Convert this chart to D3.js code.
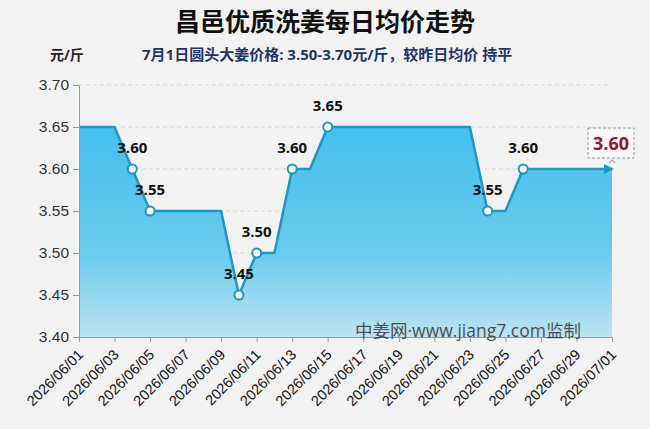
<!DOCTYPE html>
<html>
<head>
<meta charset="utf-8">
<script src="https://cdn.jsdelivr.net/npm/d3@7"></script>
<style>
    body { margin: 0; background: #f2f2f2; }
    svg { display: block; font-family: "Open Sans", "Noto Sans CJK SC", sans-serif; }
</style>
</head>
<body>
<div id="chart"></div>
<script>
// daily average price, 2026/06/01 .. 2026/07/01
const dates = d3.range(0, 31).map(i => new Date(Date.UTC(2026, 5, 1 + i)));
const prices = [3.65, 3.65, 3.65, 3.60, 3.55, 3.55, 3.55, 3.55, 3.55, 3.45,
                3.50, 3.50, 3.60, 3.60, 3.65, 3.65, 3.65, 3.65, 3.65, 3.65,
                3.65, 3.65, 3.65, 3.55, 3.55, 3.60, 3.60, 3.60, 3.60, 3.60, 3.60];
const yTicks = [3.40, 3.45, 3.50, 3.55, 3.60, 3.65, 3.70];

const title = "昌邑优质洗姜每日均价走势";
const subtitle = "7月1日圆头大姜价格: 3.50-3.70元/斤，较昨日均价 持平";
const unitLabel = "元/斤";
const watermark = "中姜网·www.jiang7.com监制";

const W = 650, H = 429;
const margin = {top: 85, right: 38, bottom: 92, left: 79};

const data = dates.map((d, i) => ({date: d, value: prices[i]}));

const svg = d3.select("#chart").append("svg")
    .attr("width", W)
    .attr("height", H);

svg.append("rect").attr("width", W).attr("height", H).attr("fill", "#f2f2f2");

const x = d3.scaleUtc()
    .domain([dates[0], dates[dates.length - 1]])
    .range([margin.left, W - margin.right]);

const y = d3.scaleLinear()
    .domain([3.40, 3.70])
    .range([H - margin.bottom, margin.top]);

// gradient for area
const defs = svg.append("defs");
const grad = defs.append("linearGradient")
    .attr("id", "areaGrad")
    .attr("x1", 0).attr("y1", 0).attr("x2", 0).attr("y2", 1);
grad.append("stop").attr("offset", "0%").attr("stop-color", "#46c0ef");
grad.append("stop").attr("offset", "60%").attr("stop-color", "#6acbee");
grad.append("stop").attr("offset", "100%").attr("stop-color", "#bde3f2");

defs.append("marker")
    .attr("id", "arrow")
    .attr("viewBox", "0 0 10 10")
    .attr("refX", 8).attr("refY", 5)
    .attr("markerWidth", 4).attr("markerHeight", 4)
    .attr("orient", "auto")
    .append("path")
    .attr("d", "M0,0L10,5L0,10Z")
    .attr("fill", "#1f97c2");

// grid lines
svg.append("g")
    .selectAll("line")
    .data(yTicks.slice(1))
    .enter().append("line")
    .attr("x1", margin.left)
    .attr("x2", W - margin.right)
    .attr("y1", d => y(d))
    .attr("y2", d => y(d))
    .attr("stroke", "#d6d6d6")
    .attr("stroke-dasharray", "4,3");

// area
const area = d3.area()
    .x(d => x(d.date))
    .y0(y(3.40))
    .y1(d => y(d.value));

svg.append("path")
    .datum(data)
    .attr("d", area)
    .attr("fill", "url(#areaGrad)");

// line
const line = d3.line()
    .x(d => x(d.date))
    .y(d => y(d.value));

svg.append("path")
    .datum(data)
    .attr("d", line)
    .attr("fill", "none")
    .attr("stroke", "#1f97c2")
    .attr("stroke-width", 2.5)
    .attr("stroke-linejoin", "round")
    .attr("marker-end", "url(#arrow)");

// y axis
const yAxis = d3.axisLeft(y)
    .tickValues(yTicks)
    .tickFormat(d3.format(".2f"))
    .tickSize(6)
    .tickSizeOuter(0);

const yG = svg.append("g")
    .attr("transform", `translate(${margin.left},0)`)
    .call(yAxis);
yG.selectAll("text")
    .attr("font-size", 15.5)
    .attr("fill", "#333")
    .attr("dx", -1);

// x axis
const xTicks = dates.filter((d, i) => i % 2 === 0);
const xAxis = d3.axisBottom(x)
    .tickValues(xTicks)
    .tickFormat(d3.utcFormat("%Y/%m/%d"))
    .tickSize(5)
    .tickSizeOuter(0);

const xG = svg.append("g")
    .attr("transform", `translate(0,${H - margin.bottom})`)
    .call(xAxis);
xG.selectAll("text")
    .attr("font-size", 14.5)
    .attr("fill", "#111")
    .attr("text-anchor", "end")
    .attr("x", 0)
    .attr("y", 0)
    .attr("dy", "0.35em")
    .attr("transform", "translate(1,15) rotate(-45)");

svg.selectAll(".domain, .tick line").attr("stroke", "#999");

// watermark
svg.append("text")
    .attr("x", 355)
    .attr("y", 337)
    .attr("font-size", 17.5)
    .attr("fill", "#333")
    .attr("fill-opacity", 0.85)
    .text(watermark);

// markers where price changes
const changes = data.filter((d, i) => i > 0 && d.value !== data[i - 1].value);

svg.append("g")
    .selectAll("text")
    .data(changes)
    .enter().append("text")
    .attr("x", d => x(d.date))
    .attr("y", d => y(d.value) - 16)
    .attr("text-anchor", "middle")
    .attr("font-size", 15)
    .attr("font-weight", "bold")
    .attr("fill", "#111")
    .text(d => d.value.toFixed(2));

svg.append("g")
    .selectAll("circle")
    .data(changes)
    .enter().append("circle")
    .attr("cx", d => x(d.date))
    .attr("cy", d => y(d.value))
    .attr("r", 4.5)
    .attr("fill", "#fff")
    .attr("stroke", "#1f97c2")
    .attr("stroke-width", 2);

// latest value callout
const last = data[data.length - 1];
const lx = x(last.date), ly = y(last.value);
svg.append("rect")
    .attr("x", lx - 24)
    .attr("y", ly - 41)
    .attr("width", 46)
    .attr("height", 30)
    .attr("fill", "#f7f7f7")
    .attr("stroke", "#999")
    .attr("stroke-dasharray", "3,2");
svg.append("text")
    .attr("x", lx - 1)
    .attr("y", ly - 19)
    .attr("text-anchor", "middle")
    .attr("font-size", 18)
    .attr("font-weight", "bold")
    .attr("fill", "#9c1431")
    .text(last.value.toFixed(2));
svg.append("path")
    .attr("d", `M${lx - 3},${ly - 6}L${lx},${ly - 9}L${lx + 3},${ly - 6}`)
    .attr("fill", "none")
    .attr("stroke", "#aaa")
    .attr("stroke-width", 1.2);

// titles
svg.append("text")
    .attr("x", W / 2)
    .attr("y", 31)
    .attr("text-anchor", "middle")
    .attr("font-size", 25)
    .attr("font-weight", "bold")
    .attr("fill", "#111")
    .text(title);

svg.append("text")
    .attr("x", 50)
    .attr("y", 60)
    .attr("font-size", 14)
    .attr("font-weight", "bold")
    .attr("fill", "#222")
    .text(unitLabel);

svg.append("text")
    .attr("x", 142)
    .attr("y", 60)
    .attr("font-size", 15)
    .attr("font-weight", "bold")
    .attr("fill", "#1f3566")
    .text(subtitle);
</script>
</body>
</html>
